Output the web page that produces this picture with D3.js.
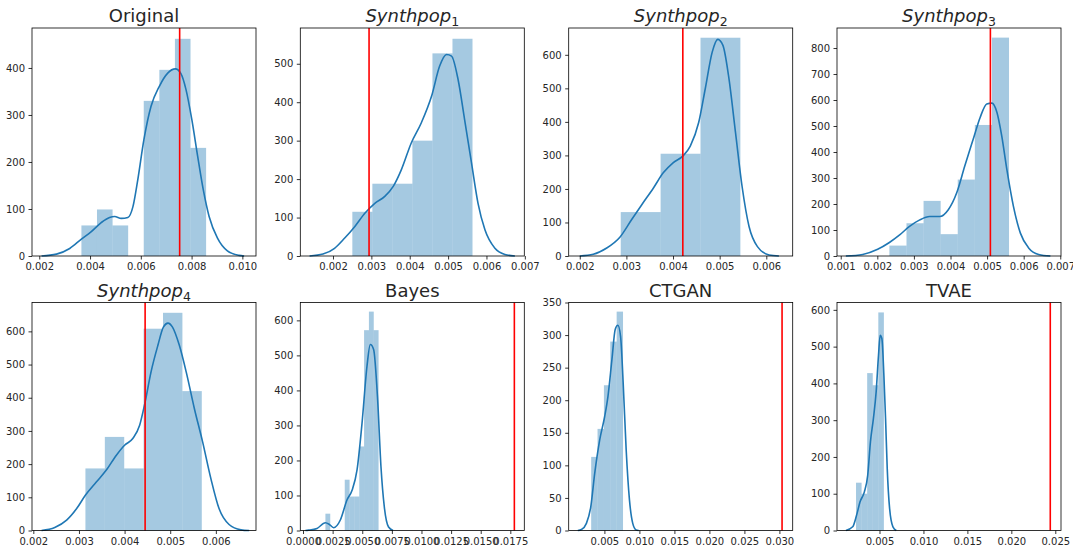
<!DOCTYPE html>
<html>
<head>
<meta charset="utf-8">
<script src="https://cdnjs.cloudflare.com/ajax/libs/d3/7.8.5/d3.min.js"></script>
<style>
    body { margin: 0; background: #fff; }
    svg text { font-family: "DejaVu Sans", sans-serif; }
</style>
</head>
<body>
<div id="chartContainer"></div>
<script>
// panel data
const titles = ['Original', 'Synthpop', 'Synthpop', 'Synthpop', 'Synthpop', 'Bayes', 'CTGAN', 'TVAE'];
const titleSubs = ['', '1', '2', '3', '4', '', '', ''];

const binStarts = [0.00366, 0.002504, 0.002879, 0.00233, 0.003142, 0.00189, 0.00311, 0.00233];
const binWidths = [0.000614, 0.000522, 0.000855, 0.000467, 0.000425, 0.000408, 0.00091, 0.000634];
const counts = [
    [65, 99, 65, 0, 330, 396, 462, 230],
    [115, 188, 188, 300, 527, 565],
    [131, 305, 651],
    [40, 126, 212, 84, 294, 504, 840],
    [187, 282, 187, 608, 656, 420],
    [48, 0, 0, 0, 145, 97, 97, 240, 572, 625, 572],
    [113, 156, 223, 290, 336],
    [130, 100, 428, 395, 593]
];

const kdeCurves = [
    [[0.00209, 0], [0.00268, 4], [0.0032, 16], [0.00366, 36], [0.00405, 52], [0.00444, 71], [0.00477, 82],
     [0.00497, 84], [0.00523, 80], [0.00549, 82], [0.00569, 105], [0.00588, 162], [0.00612, 247], [0.0064, 318],
     [0.00673, 361], [0.00706, 389], [0.00736, 398], [0.00758, 388], [0.00778, 354], [0.00801, 290],
     [0.00824, 212], [0.00846, 141], [0.00869, 84], [0.00902, 38], [0.00941, 11], [0.00987, 1.4], [0.01007, 0]],
    [[0.00139, 0], [0.00174, 5], [0.00204, 20], [0.0023, 46], [0.00257, 77], [0.00283, 111], [0.00309, 137],
     [0.00335, 155], [0.00357, 181], [0.00378, 224], [0.00404, 294], [0.0043, 346], [0.00457, 416],
     [0.00478, 494], [0.00496, 524], [0.00509, 520], [0.00526, 459], [0.00543, 355], [0.00561, 242],
     [0.00578, 137], [0.00596, 68], [0.00622, 20], [0.00648, 4], [0.00674, 0]],
    [[0.002, 0], [0.00229, 5], [0.00257, 23], [0.00286, 56], [0.00311, 108], [0.00333, 153], [0.00358, 203],
     [0.00379, 248], [0.004, 278], [0.00421, 298], [0.00437, 328], [0.00455, 398], [0.00469, 498],
     [0.00484, 608], [0.00496, 646], [0.00507, 628], [0.00519, 538], [0.00534, 368], [0.00548, 208],
     [0.00563, 88], [0.00581, 28], [0.00606, 3], [0.00627, 0]],
    [[0.00114, 0], [0.0016, 6], [0.00201, 26], [0.00233, 52], [0.00261, 81], [0.00288, 114], [0.00316, 139],
     [0.00343, 152], [0.00371, 152], [0.00394, 178], [0.00417, 243], [0.00439, 346], [0.00462, 449],
     [0.00481, 533], [0.00499, 585], [0.00513, 588], [0.00527, 552], [0.0054, 462], [0.00554, 333],
     [0.00572, 191], [0.00591, 88], [0.00614, 30], [0.00641, 6], [0.00673, 0]],
    [[0.00218, 0], [0.00247, 9], [0.00273, 31], [0.00295, 66], [0.00314, 106], [0.00338, 146], [0.0036, 182],
     [0.00382, 227], [0.004, 257], [0.00418, 277], [0.00433, 317], [0.00445, 387], [0.00458, 478],
     [0.00473, 558], [0.00485, 613], [0.00495, 625], [0.00505, 613], [0.0052, 558], [0.00535, 478],
     [0.00553, 367], [0.00571, 267], [0.00589, 157], [0.00607, 66], [0.00629, 18], [0.00655, 2], [0.00673, 0]],
    [[0.0002, 0], [0.00047, 1], [0.00118, 6], [0.00188, 22], [0.0022, 18], [0.00258, 8], [0.00315, 30],
     [0.00371, 87], [0.00414, 115], [0.00456, 173], [0.00498, 306], [0.0054, 469], [0.00568, 531],
     [0.00596, 517], [0.0063, 373], [0.00658, 182], [0.00686, 68], [0.00722, 10], [0.0076, 0]],
    [[0.0012, 0], [0.00172, 1.5], [0.00243, 11], [0.00305, 36], [0.00362, 88], [0.00433, 139], [0.00504, 175],
     [0.00551, 206], [0.00608, 263], [0.00655, 309], [0.00693, 315], [0.00731, 298], [0.00768, 227],
     [0.00811, 124], [0.00858, 47], [0.00905, 11], [0.00952, 1], [0.0099, 0]],
    [[0.00118, 0], [0.00195, 10], [0.0024, 42], [0.00279, 78], [0.00328, 105], [0.00366, 150], [0.00397, 241],
     [0.00431, 305], [0.00462, 377], [0.00489, 477], [0.00508, 531], [0.00527, 522], [0.0055, 422],
     [0.00569, 305], [0.00588, 169], [0.00615, 60], [0.00653, 10], [0.00691, 0]]
];

const refValues = [0.00753, 0.00294, 0.00421, 0.00509, 0.00445, 0.01784, 0.03038, 0.02443];

const xDomains = [
    [0.001714, 0.010537], [0.001148, 0.006986], [0.001763, 0.006566], [0.000898, 0.00702],
    [0.001971, 0.00688], [-0.00023, 0.01868], [-0.0001, 0.0319], [0.000166, 0.02565]
];
const yDomains = [[0, 485], [0, 593], [0, 680], [0, 877], [0, 687], [0, 651], [0, 350], [0, 620]];

const xTicks = [
    [0.002, 0.004, 0.006, 0.008, 0.010],
    [0.002, 0.003, 0.004, 0.005, 0.006, 0.007],
    [0.002, 0.003, 0.004, 0.005, 0.006],
    [0.001, 0.002, 0.003, 0.004, 0.005, 0.006, 0.007],
    [0.002, 0.003, 0.004, 0.005, 0.006],
    [0, 0.0025, 0.005, 0.0075, 0.01, 0.0125, 0.015, 0.0175],
    [0.005, 0.010, 0.015, 0.020, 0.025, 0.030],
    [0.005, 0.010, 0.015, 0.020, 0.025]
];
const xFormats = ['.3f', '.3f', '.3f', '.3f', '.3f', '.4f', '.3f', '.3f'];
const yTicks = [
    [0, 100, 200, 300, 400],
    [0, 100, 200, 300, 400, 500],
    [0, 100, 200, 300, 400, 500, 600],
    [0, 100, 200, 300, 400, 500, 600, 700, 800],
    [0, 100, 200, 300, 400, 500, 600],
    [0, 100, 200, 300, 400, 500, 600],
    [0, 50, 100, 150, 200, 250, 300, 350],
    [0, 100, 200, 300, 400, 500, 600]
];

const svgWidth = 1073;
const svgHeight = 549;
const panelWidth = 224;
const panelHeight = 228;
const colLefts = [32, 300.3, 568.7, 837];
const rowTops = [28, 302.5];

const histColor = '#1f77b4';
const textColor = '#262626';

const svg = d3.select('#chartContainer')
    .append('svg')
    .attr('width', svgWidth)
    .attr('height', svgHeight);

titles.forEach((title, i) => {
    const left = colLefts[i % 4];
    const top = rowTops[Math.floor(i / 4)];

    const x = d3.scaleLinear().domain(xDomains[i]).range([0, panelWidth]);
    const y = d3.scaleLinear().domain(yDomains[i]).range([panelHeight, 0]);

    const g = svg.append('g')
        .attr('transform', `translate(${left}, ${top})`);

    // histogram bars
    g.selectAll('.bar')
        .data(counts[i])
        .enter().append('rect')
        .attr('class', 'bar')
        .attr('x', (d, j) => x(binStarts[i] + j * binWidths[i]))
        .attr('width', (d, j) => x(binStarts[i] + (j + 1) * binWidths[i]) - x(binStarts[i] + j * binWidths[i]))
        .attr('y', d => y(d))
        .attr('height', d => panelHeight - y(d))
        .attr('fill', histColor)
        .attr('fill-opacity', 0.4);

    // density curve
    const line = d3.line()
        .x(d => x(d[0]))
        .y(d => y(d[1]))
        .curve(d3.curveMonotoneX);

    g.append('path')
        .datum(kdeCurves[i])
        .attr('d', line)
        .attr('fill', 'none')
        .attr('stroke', histColor)
        .attr('stroke-width', 1.6);

    // reference value
    g.append('line')
        .attr('x1', x(refValues[i]))
        .attr('x2', x(refValues[i]))
        .attr('y1', 0)
        .attr('y2', panelHeight)
        .attr('stroke', 'red')
        .attr('stroke-width', 1.6);

    const xAxis = d3.axisBottom(x)
        .tickValues(xTicks[i])
        .tickFormat(d3.format(xFormats[i]))
        .tickSize(3.5)
        .tickPadding(3.5);
    const xg = g.append('g')
        .attr('transform', `translate(0, ${panelHeight})`)
        .call(xAxis);

    const yAxis = d3.axisLeft(y)
        .tickValues(yTicks[i])
        .tickFormat(d3.format('d'))
        .tickSize(3.5)
        .tickPadding(3.5);
    const yg = g.append('g').call(yAxis);

    [xg, yg].forEach(ax => {
        ax.select('.domain').remove();
        ax.selectAll('.tick line').attr('stroke', '#000').attr('stroke-width', 0.8);
        ax.selectAll('.tick text').attr('fill', textColor).style('font-size', '10px');
    });

    // frame
    g.append('rect')
        .attr('width', panelWidth)
        .attr('height', panelHeight)
        .attr('fill', 'none')
        .attr('stroke', '#000')
        .attr('stroke-width', 0.8);

    const t = g.append('text')
        .attr('x', panelWidth / 2)
        .attr('y', -6)
        .attr('text-anchor', 'middle')
        .attr('fill', textColor)
        .style('font-size', '18px');
    if (titleSubs[i]) {
        t.append('tspan').style('font-style', 'italic').text(title);
        t.append('tspan').attr('dy', 4).style('font-size', '12.5px').text(titleSubs[i]);
    } else {
        t.text(title);
    }
});
</script>
</body>
</html>
